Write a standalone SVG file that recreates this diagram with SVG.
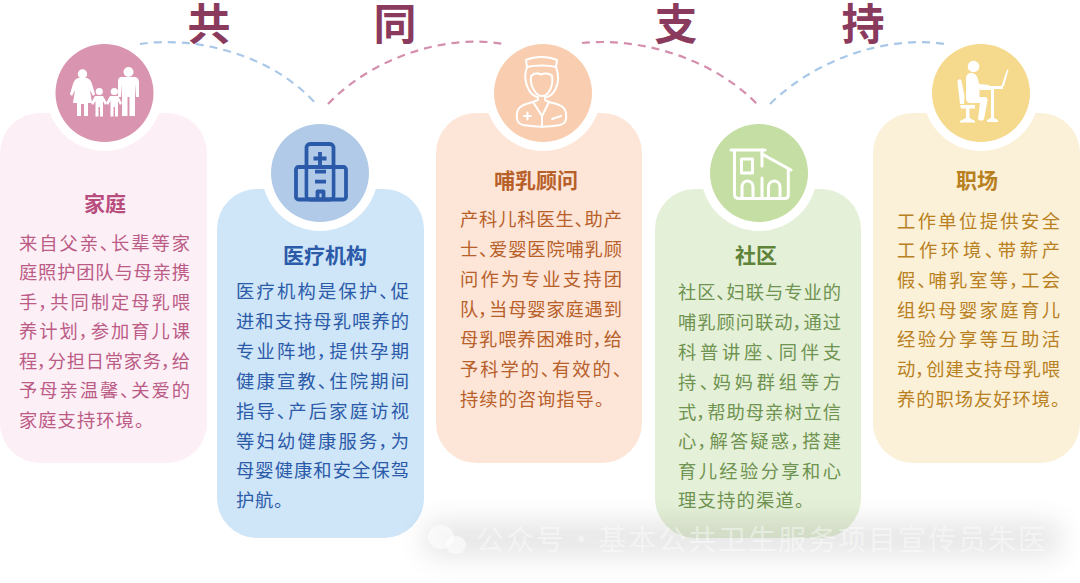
<svg xmlns="http://www.w3.org/2000/svg" width="1080" height="583" viewBox="0 0 1080 583">
<style>
text{font-family:"Noto Sans CJK SC","Noto Sans",sans-serif;font-feature-settings:"palt"}
.h{font-size:43px;font-weight:700;fill:#8a3a5c;text-anchor:middle}
.t{font-size:21px;font-weight:700;text-anchor:middle}
.b{font-size:18.300px}
.c{fill:none;stroke-width:2.200;stroke-dasharray:8 6}
.ring{fill:#fff}
.w{fill:#fff}
.ws{fill:none;stroke:#fff;stroke-width:2;stroke-linecap:round;stroke-linejoin:round}
.wt{fill:none;stroke:#fff;stroke-width:3;stroke-linecap:round;stroke-linejoin:round}
.hs{fill:none;stroke:#2b5ba8;stroke-width:3.800;stroke-linejoin:round}
</style>
<defs><filter id="blur" x="-20%" y="-80%" width="140%" height="260%"><feGaussianBlur stdDeviation="14"/></filter></defs>
<rect width="1080" height="583" fill="#fff"/>
<g id="connectors">
<path class="c" stroke="#a9c8e8" d="M140,44C190,36 270,52 316,104"/>
<path class="c" stroke="#d58fae" d="M328,104C375,55 450,34 503,44"/>
<path class="c" stroke="#d58fae" d="M582,43C640,37 712,58 757,104"/>
<path class="c" stroke="#a9c8e8" d="M770,104C815,60 885,35 945,44"/>
</g>
<g id="heading">
<text class="h" x="209" y="40">共</text>
<text class="h" x="395" y="40">同</text>
<text class="h" x="676" y="40">支</text>
<text class="h" x="863" y="40">持</text>
</g>
<g id="node-family" fill="#bb5c86">
<rect x="0" y="113" width="207" height="350" rx="40" fill="#fdeff6"/>
<circle class="ring" cx="104.500" cy="93" r="58"/>
<circle cx="104.500" cy="93" r="49" fill="#d994af"/>
<path class="w" d="M78,78H87C90,79 91,81 92,84L95,94 93,96 90,90 92,103H88V116H84V104H81V116H77V103H73L75,90 72,96 70,94 73,84C74,81 75,79 78,78Z"/>
<circle class="w" cx="82.500" cy="74" r="4.700"/>
<path class="w" d="M122,77H134C137,77 139,79 139,82V97H136L135,84V116H129.500V97H127.500V116H122V84L121,97H118V82C118,79 119,77 122,77Z"/>
<circle class="w" cx="128.500" cy="72" r="5"/>
<path class="w" d="M95,96H103L107,103 105,105 103,101V116.500H100V107H98.500V116.500H95.500V101L93,105 91,103Z"/>
<circle class="w" cx="99.300" cy="91.500" r="3.600"/>
<path class="w" d="M110,96H118L122,103 120,105 118,101V116.500H115V107H113.500V116.500H110.500V101L108,105 106,103Z"/>
<circle class="w" cx="114.300" cy="91.500" r="3.600"/>
<text class="t" x="105" y="211" fill="#b84c7d">家庭</text>
<g class="b">
<text x="19" y="250" textLength="171">来自父亲、长辈等家</text>
<text x="19" y="279" textLength="171">庭照护团队与母亲携</text>
<text x="19" y="309" textLength="171">手，共同制定母乳喂</text>
<text x="19" y="338" textLength="171">养计划，参加育儿课</text>
<text x="19" y="368" textLength="171">程，分担日常家务，给</text>
<text x="19" y="397" textLength="171">予母亲温馨、关爱的</text>
<text x="19" y="427" textLength="125">家庭支持环境。</text>
</g>
</g>
<g id="node-hospital" fill="#2b5ba8">
<rect x="217" y="189" width="207" height="349" rx="40" fill="#cfe5f8"/>
<circle class="ring" cx="320" cy="173" r="58"/>
<circle cx="320" cy="173" r="49" fill="#b0cae8"/>
<rect class="hs" x="306.500" y="144" width="27" height="55.500" rx="3.500"/>
<rect class="hs" x="296" y="167" width="50" height="32.500" rx="2.500"/>
<path fill="#b0cae8" d="M308.500,169H331.500V197H308.500Z"/>
<path class="hs" d="M320,152V165M313.500,158.500H326.500M315,171.700H326M315,181.700H326M317.500,199V191.500H323.500V199"/>
<text class="t" x="325" y="263">医疗机构</text>
<g class="b">
<text x="236" y="298" textLength="173">医疗机构是保护、促</text>
<text x="236" y="328" textLength="173">进和支持母乳喂养的</text>
<text x="236" y="358" textLength="173">专业阵地，提供孕期</text>
<text x="236" y="388" textLength="173">健康宣教、住院期间</text>
<text x="236" y="418" textLength="173">指导、产后家庭访视</text>
<text x="236" y="448" textLength="173">等妇幼健康服务，为</text>
<text x="236" y="477" textLength="173">母婴健康和安全保驾</text>
<text x="236" y="507" textLength="47">护航。</text>
</g>
</g>
<g id="node-consultant" fill="#b8602a">
<rect x="436" y="113" width="206" height="350" rx="40" fill="#fde6d8"/>
<circle class="ring" cx="543" cy="93" r="58"/>
<circle cx="543" cy="93" r="49" fill="#f9ceb0"/>
<g class="ws">
<path d="M526,60C535,56 548,56 557,60L556,67C548,65 535,65 527,67Z"/>
<path d="M527,67C524,75 525,83 529,90 531,94 534,96 537,97M556,67C559,75 559,83 555,90 553,94 550,96 547,97"/>
<path d="M531,76C534,73 538,73 541,74.500 544,73 549,73 552,76 553,82 552,88 548,93 545,97 539,97 536,93 532,88 530,82 531,76Z"/>
<path d="M538,97V100L533,102C525,104 518,106 517,113 516,120 518,124 523,125 535,127 550,127 560,125 565,124 567,120 566,113 565,106 558,104 549,102L545,100V97"/>
<path d="M533,102L542,116 549,102M542,116V127"/>
<path d="M524,116H531M527.500,112.500V119.500M552,119L561,116"/>
</g>
<text class="t" x="536" y="188">哺乳顾问</text>
<g class="b">
<text x="460" y="226" textLength="162">产科儿科医生、助产</text>
<text x="460" y="256" textLength="162">士、爱婴医院哺乳顾</text>
<text x="460" y="286" textLength="162">问作为专业支持团</text>
<text x="460" y="316" textLength="162">队，当母婴家庭遇到</text>
<text x="460" y="346" textLength="162">母乳喂养困难时，给</text>
<text x="460" y="376" textLength="162">予科学的、有效的、</text>
<text x="460" y="406" textLength="144">持续的咨询指导。</text>
</g>
</g>
<g id="node-community" fill="#6f9350">
<rect x="655" y="189" width="206" height="349" rx="40" fill="#e5f0d8"/>
<circle class="ring" cx="759" cy="173" r="58"/>
<circle cx="759" cy="173" r="49" fill="#c5dea3"/>
<g class="wt">
<path d="M731,150H765M734.500,150V194C734.500,197 736,198.500 739,198.500H785C787,198.500 788.300,197 788.300,195V169"/>
<path d="M762,154L791,170"/>
<rect x="741.500" y="159" width="11" height="14"/>
<path d="M762,150V166M762,178V198M742,198V187C742,179 753,179 753,187V198M768.500,198V187C768.500,179 780,179 780,187V198"/>
</g>
<text class="t" x="756" y="263" fill="#5e8339">社区</text>
<g class="b">
<text x="678" y="299" textLength="163">社区、妇联与专业的</text>
<text x="678" y="329" textLength="163">哺乳顾问联动，通过</text>
<text x="678" y="359" textLength="163">科普讲座、同伴支</text>
<text x="678" y="389" textLength="163">持、妈妈群组等方</text>
<text x="678" y="419" textLength="163">式，帮助母亲树立信</text>
<text x="678" y="448" textLength="163">心，解答疑惑，搭建</text>
<text x="678" y="478" textLength="163">育儿经验分享和心</text>
<text x="678" y="507" textLength="126">理支持的渠道。</text>
</g>
</g>
<g id="node-workplace" fill="#b8801e">
<rect x="873" y="113" width="207" height="350" rx="40" fill="#fbf0d8"/>
<circle class="ring" cx="981" cy="93" r="58"/>
<circle cx="981" cy="93" r="49" fill="#f5d98c"/>
<g class="w">
<circle cx="973.500" cy="66.500" r="5.800"/>
<path d="M971,73C977,73 978,78 979,84L989,85V88H979.500V97H985C987,97 988,99 987.500,101L984,119C983,121 979,121 978,119L980,103H970C967,103 966,100 966,97V79C966,75 968,73 971,73Z"/>
<path d="M957.500,82C957,79 961,78 961.500,81L964.500,96 964,104H960Z"/>
<path d="M960,105H975V108.500H969.500V118L975,121V122.500H960V121L966,118V108.500H961Z"/>
<path d="M979.500,86H1003V89H994V118L998,120V122H987V120L991,118V90H979.500Z"/>
<path d="M1007,69.500L1008.500,70 1004,86H1001.500Z"/>
</g>
<text class="t" x="977" y="188">职场</text>
<g class="b">
<text x="897" y="228" textLength="163">工作单位提供安全</text>
<text x="897" y="257" textLength="163">工作环境、带薪产</text>
<text x="897" y="287" textLength="163">假、哺乳室等，工会</text>
<text x="897" y="317" textLength="163">组织母婴家庭育儿</text>
<text x="897" y="346" textLength="163">经验分享等互助活</text>
<text x="897" y="376" textLength="163">动，创建支持母乳喂</text>
<text x="897" y="406" textLength="163">养的职场友好环境。</text>
</g>
</g>
<g id="watermark">
<rect x="425" y="522" width="635" height="34" fill="#000" opacity=".1" filter="url(#blur)"/>
<ellipse cx="441" cy="537" rx="13" ry="12" fill="#fff" fill-opacity=".6"/>
<ellipse cx="456" cy="545" rx="10" ry="9" fill="#fff" fill-opacity=".6"/>
<text x="476" y="550" font-size="28" textLength="570" fill="#fff" fill-opacity=".45">公众号 · 基本公共卫生服务项目宣传员朱医</text>
</g>
</svg>
